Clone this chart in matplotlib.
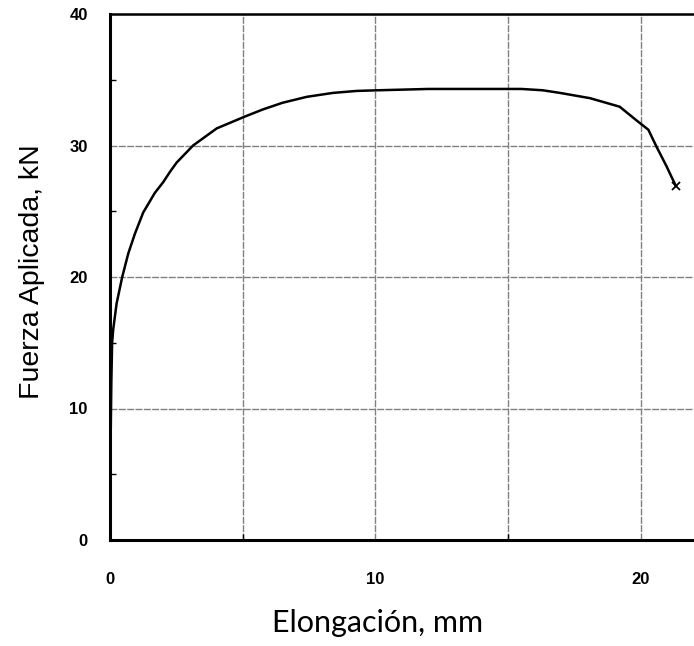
import matplotlib
matplotlib.use('Agg')
import matplotlib.pyplot as plt

# elongation (mm) and applied force (kN)
elong = [0.0, 0.02, 0.05, 0.08, 0.12, 0.25, 0.46, 0.69, 0.94, 1.25, 1.69, 2.0,
         2.26, 2.51, 3.13, 4.02, 5.08, 5.77, 6.5, 7.41, 8.4, 9.29, 10.1, 12.0,
         14.0, 15.5, 16.3, 16.95, 18.08, 19.2, 19.84, 20.28, 20.59, 20.97, 21.32]
force = [0.0, 7.0, 12.0, 15.0, 16.0, 18.0, 20.0, 21.8, 23.3, 24.9, 26.4, 27.2,
         28.0, 28.7, 30.0, 31.3, 32.2, 32.75, 33.25, 33.7, 34.0, 34.15, 34.2, 34.3,
         34.3, 34.3, 34.2, 34.0, 33.6, 32.95, 31.9, 31.2, 29.9, 28.4, 26.9]

xticks = [0, 10, 20]
yticks = [0, 10, 20, 30, 40]

fig = plt.figure(figsize=(6.94, 6.46), dpi=100)
ax = fig.add_axes([110/694, 106/646, 1 - 110/694, 526/646])

ax.plot(elong, force, color='black', lw=1.8, zorder=3,
        solid_joinstyle='round', solid_capstyle='round')
ax.plot(elong[-1], force[-1], marker='x', color='black', ms=6, mew=1.3, zorder=4)

ax.set_xlim(0, 22.0)
ax.set_ylim(0, 40)
ax.set_xticks(xticks)
ax.set_xticks([5, 15], minor=True)
ax.set_yticks(yticks)
ax.set_yticks([5, 15, 25, 35], minor=True)

gridstyle = dict(color='#808080', lw=1.0, ls=(0, (5, 1)))
ax.grid(True, which='both', axis='x', **gridstyle)
ax.grid(True, which='major', axis='y', **gridstyle)

ax.spines['right'].set_visible(False)
ax.spines['left'].set_linewidth(2.2)
ax.spines['bottom'].set_linewidth(2.2)
ax.spines['top'].set_linewidth(1.8)

ax.tick_params(axis='both', which='both', direction='in', color='black')
ax.tick_params(axis='y', which='major', length=0, pad=16)
ax.tick_params(axis='x', which='major', length=0, pad=23)
ax.tick_params(axis='both', which='minor', length=4, width=1)

ax.set_xticklabels([str(t) for t in xticks], fontfamily='Liberation Sans',
                   fontweight='bold', fontsize=12)
ax.set_yticklabels([str(t) for t in yticks], fontfamily='Liberation Sans',
                   fontweight='bold', fontsize=12)

fig.text(378/694, 1 - 623/646, 'Elongación, mm', family='Lato', fontsize=22,
         ha='center', va='center')
fig.text(32/694, 1 - 272/646, 'Fuerza Aplicada, kN', family='Liberation Sans',
         fontsize=20.5, rotation=90, ha='center', va='center')

fig.savefig('out.png', dpi=100)
